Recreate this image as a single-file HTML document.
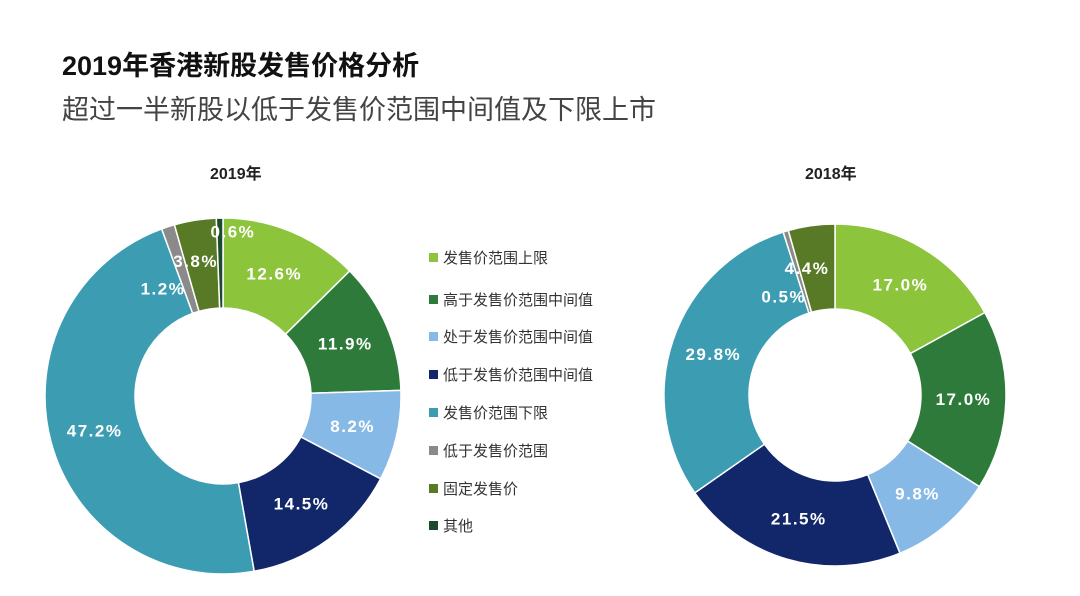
<!DOCTYPE html>
<html><head><meta charset="utf-8"><style>
body{margin:0;width:1080px;height:596px;background:#fff;overflow:hidden;font-family:"Liberation Sans","Noto Sans CJK SC",sans-serif}
.t1{position:absolute;left:62px;top:44px;font-size:27px;font-weight:bold;color:#111}
.t2{position:absolute;left:62px;top:88px;font-size:27px;color:#444}
.yr{position:absolute;top:160px;font-size:16px;font-weight:bold;color:#222}
.lg{position:absolute;left:429px;font-size:15px;color:#333;display:flex;align-items:center}
.lg i{display:inline-block;width:9px;height:9px;margin-right:5px}
</style></head><body>
<div class="t1">2019年香港新股发售价格分析</div>
<div class="t2">超过一半新股以低于发售价范围中间值及下限上市</div>
<div class="yr" style="left:210px">2019年</div>
<div class="yr" style="left:805px">2018年</div>
<svg id="s" width="1080" height="596" style="position:absolute;left:0;top:0"></svg>
<div id="legend"></div>
<script>
const categories=["发售价范围上限","高于发售价范围中间值","处于发售价范围中间值","低于发售价范围中间值","发售价范围下限","低于发售价范围","固定发售价","其他"];
const colors=["#8cc43c","#2d7a3a","#86b9e6","#12266a","#3c9db2","#8a8a8a","#587a26","#1c4a2c"];
const values2019=[12.6,11.9,8.2,14.5,47.2,1.2,3.8,0.6];
const values2018=[17.0,17.0,9.8,21.5,29.8,0.5,4.4,0];
const labels2019=["12.6%","11.9%","8.2%","14.5%","47.2%","1.2%","3.8%","0.6%"];
const labels2018=["17.0%","17.0%","9.8%","21.5%","29.8%","0.5%","4.4%",""];
const ns="http://www.w3.org/2000/svg",svg=document.getElementById('s');
function pt(cx,cy,r,a){return [cx+r*Math.sin(a),cy-r*Math.cos(a)];}
function donut(vals,labs,cx,cy,R,r,name,lblOverride){
 const tot=vals.reduce((a,b)=>a+b,0);let a0=0;
 vals.forEach((v,i)=>{
  if(v<=0)return;
  const a1=a0+v/tot*2*Math.PI,lg=(a1-a0)>Math.PI?1:0;
  const p1=pt(cx,cy,R,a0),p2=pt(cx,cy,R,a1),p3=pt(cx,cy,r,a1),p4=pt(cx,cy,r,a0);
  const p=document.createElementNS(ns,'path');
  p.setAttribute('d',`M${p1}A${R},${R} 0 ${lg} 1 ${p2}L${p3}A${r},${r} 0 ${lg} 0 ${p4}Z`);
  p.setAttribute('fill',colors[i]);p.setAttribute('stroke','#fff');p.setAttribute('stroke-width','1.5');
  
  
  svg.appendChild(p);
  a0=a1;
 });
 a0=0;
 vals.forEach((v,i)=>{
  if(v<=0)return;
  const a1=a0+v/tot*2*Math.PI;
  let am=(a0+a1)/2,rr=(R+r)/2,lp=pt(cx,cy,rr,am);
  if(lblOverride[i])lp=pt(cx,cy,lblOverride[i][1],lblOverride[i][0]);
  const t=document.createElementNS(ns,'text');
  t.setAttribute('x',lp[0]);t.setAttribute('y',lp[1]+6);t.setAttribute('text-anchor','middle');
  t.setAttribute('fill','#fff');t.setAttribute('font-size','17');t.setAttribute('font-weight','bold');t.setAttribute('letter-spacing','1.5');
  t.setAttribute('font-family','"Liberation Sans",sans-serif');
  t.textContent=labs[i];
  
  
  svg.appendChild(t);
  a0=a1;
 });
}
donut(values2019,labels2019,223,396,178,88,'donut-2019',{5:[-0.51,123],6:[-0.2,138],7:[0.06,165]});
donut(values2018,labels2018,835,395,171,86,'donut-2018',{5:[-0.48,111],6:[-0.217,130]});
const L=document.getElementById('legend');const ys=[247,289,326,364,402,440,478,515];
categories.forEach((c,i)=>{const d=document.createElement('div');d.className='lg';d.style.top=ys[i]+'px';
 d.innerHTML='<i style="background:'+colors[i]+'"></i>'+c;
 
 
 L.appendChild(d);});
</script>
</body></html>
